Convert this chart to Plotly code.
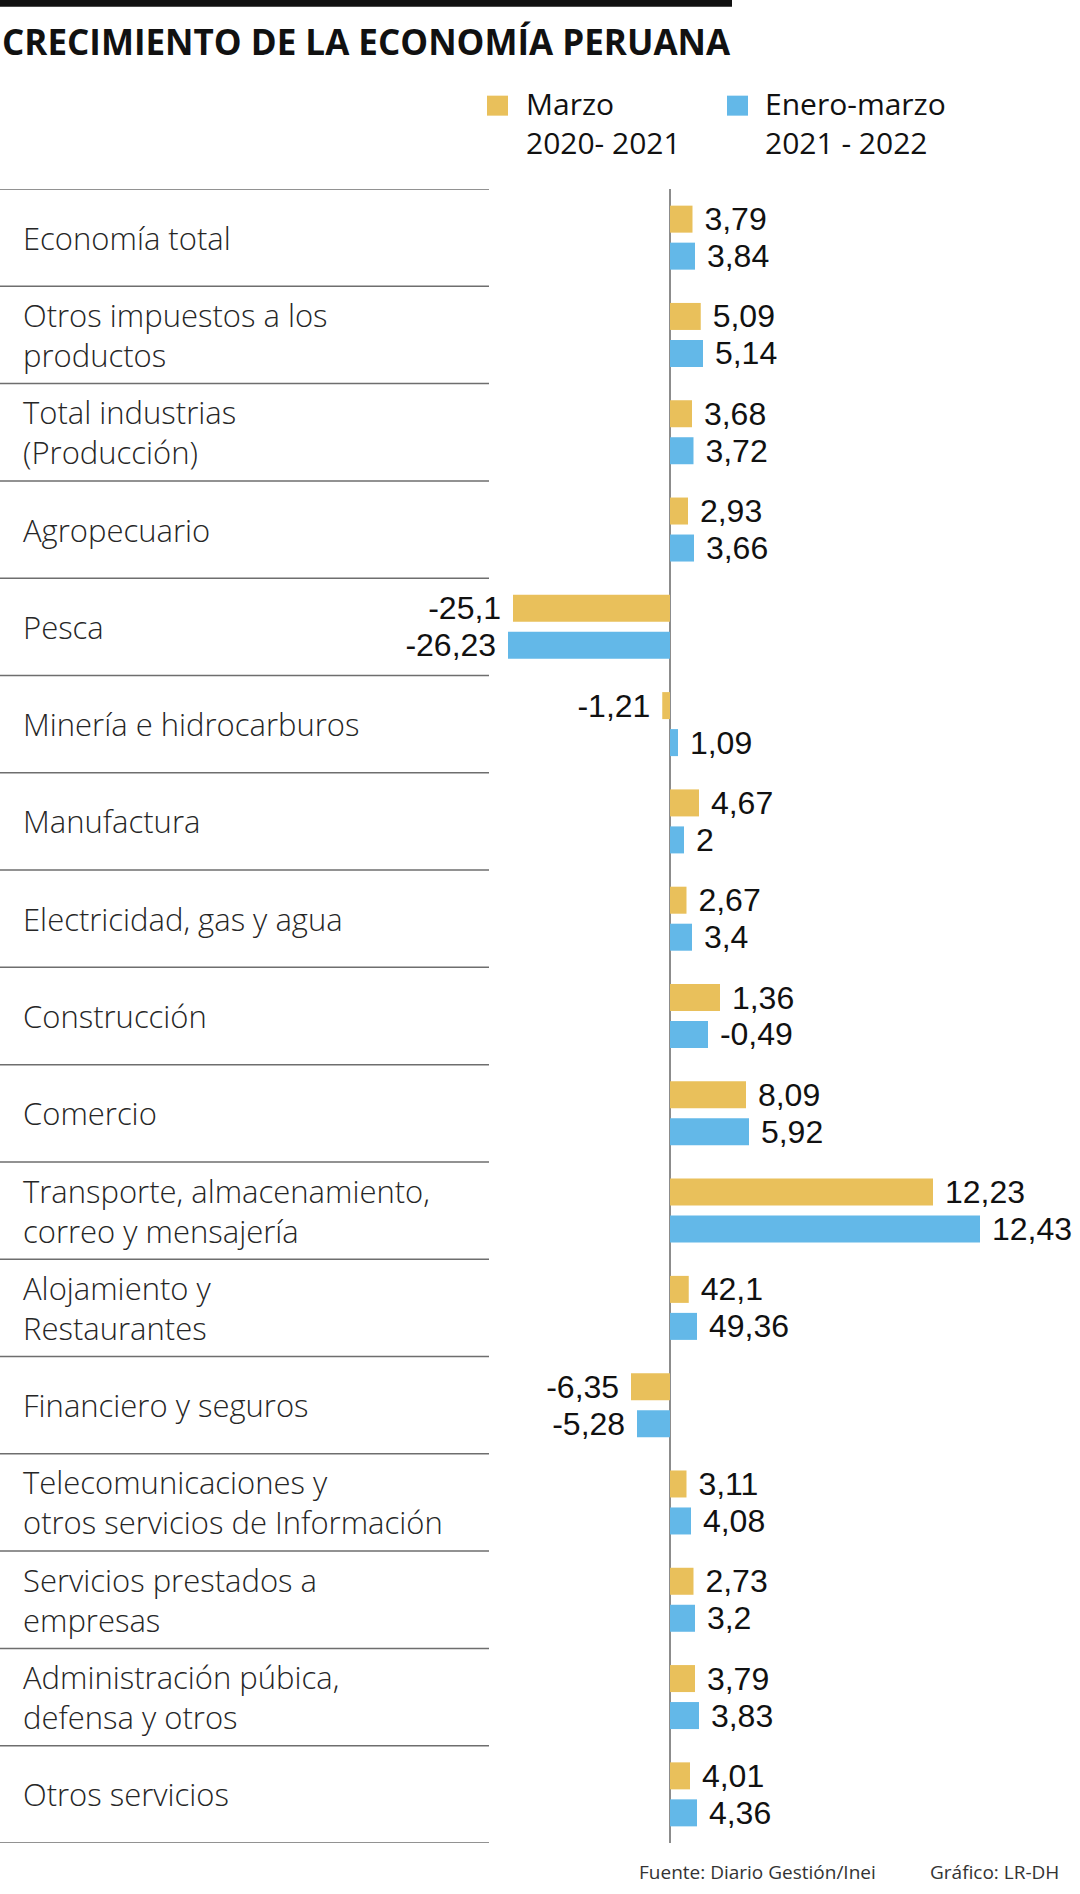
import plotly.graph_objects as go

# ---------------- data ----------------
sectores = [
    "Economía total",
    "Otros impuestos a los<br>productos",
    "Total industrias<br>(Producción)",
    "Agropecuario",
    "Pesca",
    "Minería e hidrocarburos",
    "Manufactura",
    "Electricidad, gas y agua",
    "Construcción",
    "Comercio",
    "Transporte, almacenamiento,<br>correo y mensajería",
    "Alojamiento y<br>Restaurantes",
    "Financiero y seguros",
    "Telecomunicaciones y<br>otros servicios de Información",
    "Servicios prestados a<br>empresas",
    "Administración púbica,<br>defensa y otros",
    "Otros servicios",
]

serie_marzo = "Marzo<br>2020- 2021"
serie_enero_marzo = "Enero-marzo<br>2021 - 2022"

# values printed on the chart
marzo = [3.79, 5.09, 3.68, 2.93, -25.1, -1.21, 4.67, 2.67, 1.36, 8.09,
         12.23, 42.1, -6.35, 3.11, 2.73, 3.79, 4.01]
enero_marzo = [3.84, 5.14, 3.72, 3.66, -26.23, 1.09, 2, 3.4, -0.49, 5.92,
               12.43, 49.36, -5.28, 4.08, 3.2, 3.83, 4.36]

# bar lengths as drawn in the original graphic (not proportional to labels)
largo_marzo = [0.90, 1.23, 0.88, 0.72, -6.28, -0.31, 1.16, 0.66, 2.00, 3.04,
               10.52, 0.75, -1.56, 0.66, 0.94, 1.00, 0.80]
largo_enero_marzo = [1.00, 1.32, 0.94, 0.96, -6.48, 0.32, 0.56, 0.88, 1.52, 3.16,
                     12.40, 1.08, -1.32, 0.84, 1.00, 1.16, 1.08]

titulo = "CRECIMIENTO DE LA ECONOMÍA PERUANA"
fuente = "Fuente: Diario Gestión/Inei"
credito = "Gráfico: LR-DH"

# ---------------- styling / layout ----------------
GOLD = "#E9C05B"
BLUE = "#63B8E8"
W, H = 1080, 1894
N = len(sectores)
STEP = 97.3
TOP = 238 - STEP / 2
PH = STEP * N
BOTTOM = H - TOP - PH
FONT = "Open Sans"
VFONT = "Liberation Sans"


def px(x):
    return x / W


def py(y):
    return 1 - (y - TOP) / PH


def fmt(v, largo):
    s = f"{v:g}".replace(".", ",")
    return "\u00a0" + s if largo >= 0 else s + "\u00a0"


fig = go.Figure()
for nombre, vals, largos, color in [
    (serie_marzo, marzo, largo_marzo, GOLD),
    (serie_enero_marzo, enero_marzo, largo_enero_marzo, BLUE),
]:
    fig.add_trace(go.Bar(
        y=sectores, x=largos, orientation="h", name=nombre,
        marker=dict(color=color, line=dict(width=0)),
        text=[fmt(v, l) for v, l in zip(vals, largos)],
        textposition="outside", constraintext="none", cliponaxis=False,
        outsidetextfont=dict(family=VFONT, size=32, color="#111111"),
        hoverinfo="skip",
    ))

annotations = []
shapes = []

# category labels
for s in sectores:
    annotations.append(dict(
        x=px(21), xref="paper", y=s, yref="y", text=s,
        xanchor="left", yanchor="middle", align="left", showarrow=False,
        font=dict(family=FONT, size=31, color="#262626", weight=300),
    ))

# row separators at category boundaries
for i in range(N + 1):
    shapes.append(dict(type="line", xref="paper", x0=0, x1=px(489),
                       yref="y", y0=i - 0.5, y1=i - 0.5,
                       line=dict(color="#6e6e6e", width=1.5)))

# top black rule and title
shapes.append(dict(type="rect", xref="paper", yref="paper",
                   x0=0, x1=px(732), y0=py(7), y1=py(0),
                   fillcolor="#111111", line=dict(width=0)))
annotations.append(dict(x=0, xref="paper", y=py(42), yref="paper",
                        text=titulo, xanchor="left", yanchor="middle",
                        showarrow=False,
                        font=dict(family=FONT, size=35, color="#111111", weight=700)))

# custom legend
for nombre, color, x_sq, x_tx in [(serie_marzo, GOLD, 487, 524),
                                  (serie_enero_marzo, BLUE, 727, 763)]:
    shapes.append(dict(type="rect", xref="paper", yref="paper",
                       x0=px(x_sq), x1=px(x_sq + 21), y0=py(116), y1=py(96),
                       fillcolor=color, line=dict(width=0)))
    annotations.append(dict(x=px(x_tx), xref="paper", y=py(123),
                            yref="paper", text=nombre, xanchor="left",
                            yanchor="middle", align="left", showarrow=False,
                            font=dict(family=FONT, size=30, color="#111111")))

# footer
for txt, x0 in [(fuente, 637), (credito, 928)]:
    annotations.append(dict(x=px(x0), xref="paper", y=py(1872), yref="paper",
                            text=txt, xanchor="left", yanchor="middle",
                            showarrow=False,
                            font=dict(family=FONT, size=19, color="#333333")))

fig.update_layout(
    width=W, height=H,
    margin=dict(l=0, r=0, t=TOP, b=BOTTOM, pad=0),
    paper_bgcolor="white", plot_bgcolor="white",
    barmode="group", bargap=1 - 74 / STEP, bargroupgap=0.27,
    showlegend=False,
    xaxis=dict(range=[-670 / 25, 410 / 25], showgrid=False, showticklabels=False,
               ticks="", showline=False, zeroline=True,
               zerolinecolor="#8c8c8c", zerolinewidth=2, fixedrange=True),
    yaxis=dict(type="category", categoryorder="array", categoryarray=sectores,
               range=[N - 0.5, -0.5], showgrid=False, showticklabels=False,
               ticks="", showline=False, zeroline=False, fixedrange=True),
    annotations=annotations, shapes=shapes,
    font=dict(family=FONT),
)

fig.write_html("out.html", config={"displayModeBar": False},
               post_script="document.body.style.margin='0';")
